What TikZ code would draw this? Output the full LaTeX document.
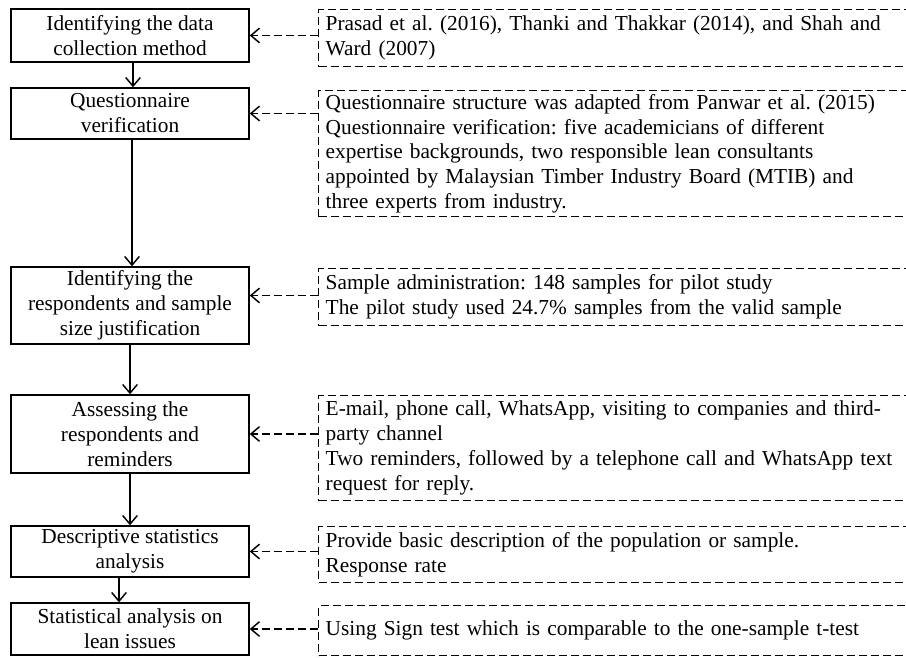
\documentclass[tikz,border=0pt]{standalone}
\usepackage{fontspec}
\setmainfont{Liberation Serif}
\usetikzlibrary{arrows.meta}
\newlength\px \setlength\px{0.75pt}
\frenchspacing
\begin{document}
\begin{tikzpicture}[x=0.75pt,y=-0.75pt,
  txt/.style={font=\fontsize{16}{18.7}\selectfont},
  lbox/.style={txt, draw, line width=1.1pt, rectangle, minimum width=238\px, align=center, inner sep=0pt},
  rbox/.style={txt, draw, dash pattern=on 6pt off 3pt, line width=1.1pt, rectangle, minimum width=592\px, text width=578\px, inner xsep=7\px, inner ysep=0pt, align=left, anchor=north west},
  tip/.style={-{Straight Barb[length=6.5pt,width=11pt,line width=1.1pt]}},
  sarr/.style={tip, line width=1.1pt},
  darr/.style={tip, line width=1.1pt, dash pattern=on 6pt off 3pt}
]
\useasboundingbox (0,0) rectangle (906,657);
\fill[white] (0,0) rectangle (906,657);
\newcommand\jl[1]{\makebox[558\px][s]{#1}}
% left boxes
\node[lbox, minimum height=53\px] (b1) at (130,35.5) {Identifying the data\\collection method};
\node[lbox, minimum height=51\px] (b2) at (130,113.5) {Questionnaire\\verification};
\node[lbox, minimum height=77\px] (b3) at (130,305.5) {Identifying the\\respondents and sample\\size justification};
\node[lbox, minimum height=78\px] (b4) at (130,434) {Assessing the\\respondents and\\reminders};
\node[lbox, minimum height=51\px] (b5) at (130,551.5) {Descriptive statistics\\analysis};
\node[lbox, minimum height=52\px] (b6) at (130,629) {Statistical analysis on\\lean issues};
% right boxes
\node[rbox, minimum height=57\px] (r1) at (318,9) {\jl{Prasad et al. (2016), Thanki and Thakkar (2014), and Shah and}\\Ward (2007)};
\node[rbox, minimum height=126\px] (r2) at (318,90) {Questionnaire structure was adapted from Panwar et al. (2015)\\\jl{Questionnaire verification: five academicians of different}\\\jl{expertise backgrounds, two responsible lean consultants}\\\jl{appointed by Malaysian Timber Industry Board (MTIB) and}\\three experts from industry.};
\node[rbox, minimum height=57\px] (r3) at (318,268) {Sample administration: 148 samples for pilot study\\The pilot study used 24.7\% samples from the valid sample};
\node[rbox, minimum height=105\px] (r4) at (318,395) {\jl{E-mail, phone call, WhatsApp, visiting to companies and third-}\\party channel\\\jl{Two reminders, followed by a telephone call and WhatsApp text}\\request for reply.};
\node[rbox, minimum height=56\px] (r5) at (318,526) {Provide basic description of the population or sample.\\Response rate};
\node[rbox, minimum height=50\px] (r6) at (318,605) {Using Sign test which is comparable to the one-sample t-test};
% vertical arrows
\draw[sarr] ([xshift=3\px]b1.south) -- ([xshift=3\px]b2.north);
\draw[sarr] ([xshift=2\px]b2.south) -- ([xshift=2\px]b3.north);
\draw[sarr] (b3.south) -- (b4.north);
\draw[sarr] (b4.south) -- (b5.north);
\draw[sarr] ([xshift=-11\px]b5.south) -- ([xshift=-11\px]b6.north);
% dashed arrows
\draw[darr] (r1.west |- b1.east) -- (b1.east);
\draw[darr] (r2.west |- b2.east) -- (b2.east);
\draw[darr] ([yshift=10\px]r3.west |- b3.east) -- ([yshift=10\px]b3.east);
\draw[darr] (r4.west |- b4.east) -- (b4.east);
\draw[darr] (r5.west |- b5.east) -- (b5.east);
\draw[darr] (r6.west |- b6.east) -- (b6.east);
\end{tikzpicture}
\end{document}
